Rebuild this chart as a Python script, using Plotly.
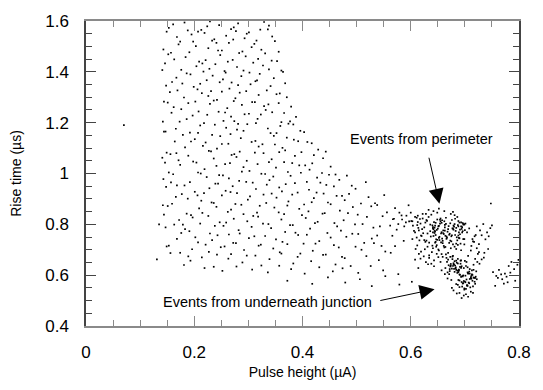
import plotly.graph_objects as go

# ---- broad band of events (pulse height, rise time), read row by row ----
band_x = [
 0.153,0.161,0.182,0.188,0.207,0.224,0.229,0.246,0.268,0.273,0.281,0.301,0.322,0.329,0.338,
 0.149,0.168,0.174,0.195,0.213,0.219,0.237,0.241,0.259,0.277,0.293,0.297,0.315,0.336,0.344,
 0.143,0.157,0.171,0.198,0.203,0.226,0.233,0.251,0.264,0.272,0.289,0.306,0.311,0.331,0.349,
 0.152,0.163,0.184,0.191,0.215,0.221,0.244,0.248,0.262,0.283,0.295,0.318,0.324,0.343,0.356,
 0.146,0.176,0.186,0.204,0.209,0.228,0.239,0.256,0.271,0.279,0.302,0.309,0.327,0.338,0.353,0.361,
 0.141,0.159,0.167,0.193,0.211,0.217,0.234,0.253,0.258,0.269,0.287,0.291,0.316,0.321,0.347,0.364,
 0.148,0.155,0.178,0.199,0.206,0.223,0.231,0.247,0.265,0.281,0.284,0.304,0.313,0.334,0.341,0.358,0.368,
 0.144,0.169,0.181,0.189,0.214,0.226,0.242,0.251,0.273,0.276,0.296,0.312,0.319,0.337,0.352,0.371,
 0.151,0.162,0.176,0.202,0.208,0.229,0.236,0.257,0.261,0.288,0.293,0.307,0.329,0.332,0.356,0.366,0.379,
 0.142,0.158,0.186,0.197,0.218,0.224,0.245,0.254,0.268,0.281,0.301,0.317,0.323,0.344,0.361,0.374,0.388,
 0.147,0.166,0.173,0.192,0.211,0.233,0.238,0.259,0.274,0.279,0.298,0.314,0.336,0.341,0.359,0.377,0.383,0.396,
 0.144,0.164,0.179,0.201,0.207,0.221,0.248,0.251,0.267,0.286,0.291,0.313,0.326,0.347,0.352,0.371,0.384,0.403,0.409,
 0.149,0.156,0.183,0.194,0.216,0.227,0.242,0.263,0.269,0.284,0.306,0.319,0.328,0.349,0.363,0.368,0.392,0.398,0.417,0.429,
 0.141,0.167,0.171,0.189,0.204,0.231,0.236,0.257,0.274,0.278,0.297,0.312,0.338,0.343,0.357,0.381,0.386,0.405,0.421,0.438,0.443,
 0.146,0.153,0.174,0.198,0.212,0.219,0.241,0.253,0.266,0.291,0.302,0.317,0.331,0.351,0.366,0.373,0.394,0.413,0.418,0.436,0.452,0.461,
 0.143,0.161,0.168,0.192,0.207,0.223,0.239,0.246,0.264,0.283,0.288,0.308,0.324,0.339,0.346,0.369,0.378,0.397,0.408,0.427,0.444,0.449,0.468,0.482,
 0.148,0.157,0.182,0.201,0.206,0.228,0.244,0.258,0.271,0.279,0.296,0.314,0.328,0.334,0.357,0.362,0.386,0.391,0.412,0.433,0.439,0.458,0.473,0.491,0.498,0.517,
 0.142,0.166,0.177,0.188,0.213,0.218,0.236,0.251,0.267,0.276,0.299,0.303,0.321,0.343,0.352,0.374,0.381,0.403,0.421,0.426,0.447,0.463,0.478,0.486,0.508,0.522,0.538,0.551,
 0.151,0.159,0.186,0.194,0.209,0.232,0.241,0.262,0.268,0.287,0.309,0.316,0.333,0.348,0.366,0.372,0.394,0.411,0.417,0.441,0.452,0.469,0.493,0.502,0.527,0.534,0.556,0.571,0.583,0.596,
 0.144,0.172,0.179,0.197,0.215,0.226,0.247,0.254,0.273,0.291,0.298,0.318,0.327,0.356,0.361,0.382,0.399,0.406,0.428,0.437,0.459,0.476,0.484,0.511,0.519,0.543,0.548,0.567,0.579,0.601,0.613,
 0.147,0.163,0.183,0.191,0.211,0.229,0.238,0.259,0.264,0.282,0.306,0.311,0.337,0.342,0.368,0.377,0.392,0.414,0.423,0.446,0.464,0.471,0.497,0.503,0.531,0.538,0.562,0.574,0.591,
 0.153,0.168,0.176,0.202,0.207,0.233,0.243,0.256,0.277,0.284,0.301,0.323,0.331,0.351,0.363,0.387,0.402,0.408,0.431,0.452,0.458,0.481,0.492,0.514,0.528,0.546,0.566,0.587,
 0.149,0.174,0.189,0.196,0.221,0.227,0.249,0.268,0.272,0.292,0.313,0.319,0.346,0.358,0.372,0.396,0.419,0.424,0.443,0.467,0.473,0.498,0.509,0.532,0.553,0.571,
 0.156,0.181,0.193,0.214,0.236,0.242,0.263,0.289,0.297,0.324,0.339,0.361,0.383,0.391,0.416,0.438,0.461,0.478,0.489,0.518,0.541,0.563,
 0.219,0.252,0.278,0.307,0.336,0.357,0.379,0.404,0.431,0.456,0.474,0.503,0.526,0.549,0.577,
 0.372,0.418,0.447,0.479,0.506,0.528,0.553,0.579,0.602,0.618,
 0.070,0.135,0.131,
]
band_y = [
 1.573,1.587,1.594,1.563,1.558,1.579,1.598,1.584,1.568,1.575,1.591,1.555,1.566,1.596,1.582,
 1.558,1.537,1.519,1.547,1.565,1.553,1.528,1.514,1.542,1.560,1.532,1.550,1.523,1.567,1.539,
 1.488,1.475,1.508,1.519,1.501,1.493,1.523,1.484,1.514,1.527,1.480,1.497,1.510,1.473,1.521,
 1.469,1.449,1.458,1.477,1.433,1.446,1.484,1.466,1.440,1.474,1.461,1.451,1.487,1.444,1.479,
 1.433,1.408,1.394,1.422,1.440,1.412,1.430,1.403,1.447,1.419,1.397,1.436,1.425,1.410,1.442,1.405,
 1.407,1.360,1.377,1.390,1.353,1.401,1.385,1.370,1.397,1.358,1.383,1.405,1.366,1.392,1.375,1.400,
 1.346,1.320,1.354,1.341,1.331,1.367,1.324,1.359,1.334,1.348,1.318,1.351,1.363,1.327,1.344,1.315,1.355,
 1.283,1.327,1.299,1.277,1.316,1.305,1.290,1.322,1.285,1.296,1.324,1.281,1.309,1.272,1.312,1.300,
 1.279,1.261,1.253,1.283,1.244,1.274,1.287,1.240,1.257,1.270,1.233,1.281,1.265,1.250,1.277,1.238,1.263,
 1.204,1.239,1.214,1.228,1.198,1.231,1.243,1.207,1.224,1.195,1.235,1.215,1.232,1.241,1.202,1.196,1.223,
 1.165,1.176,1.204,1.161,1.189,1.152,1.192,1.180,1.206,1.173,1.194,1.198,1.177,1.159,1.187,1.205,1.193,1.168,
 1.165,1.126,1.152,1.135,1.160,1.122,1.147,1.116,1.155,1.139,1.168,1.128,1.115,1.148,1.159,1.141,1.133,1.163,1.124,
 1.082,1.076,1.103,1.126,1.109,1.089,1.098,1.117,1.073,1.086,1.124,1.106,1.080,1.114,1.101,1.091,1.127,1.084,1.119,1.094,
 1.062,1.080,1.052,1.070,1.043,1.087,1.059,1.037,1.076,1.065,1.050,1.082,1.045,1.056,1.084,1.041,1.069,1.032,1.072,1.060,1.086,
 1.043,1.004,1.034,1.047,1.000,1.017,1.030,0.993,1.041,1.025,1.010,1.037,0.998,1.023,1.045,1.006,1.032,1.015,1.040,1.002,1.027,0.996,
 0.978,0.997,0.953,0.966,1.004,0.986,0.960,0.994,0.981,0.971,1.007,0.964,0.999,0.974,0.988,0.958,0.991,1.003,0.967,0.984,0.955,0.995,0.975,0.992,
 0.947,0.965,0.953,0.928,0.914,0.942,0.960,0.932,0.950,0.923,0.967,0.939,0.917,0.956,0.945,0.930,0.962,0.925,0.936,0.964,0.921,0.949,0.912,0.952,0.940,0.966,
 0.875,0.908,0.919,0.901,0.893,0.923,0.884,0.914,0.927,0.880,0.897,0.910,0.873,0.921,0.905,0.890,0.917,0.878,0.903,0.925,0.886,0.912,0.895,0.920,0.882,0.907,0.876,0.915,
 0.872,0.881,0.842,0.836,0.863,0.886,0.869,0.849,0.858,0.877,0.833,0.846,0.884,0.866,0.840,0.874,0.861,0.851,0.887,0.844,0.879,0.854,0.868,0.838,0.871,0.883,0.847,0.864,0.835,0.875,
 0.838,0.817,0.799,0.827,0.845,0.833,0.808,0.794,0.822,0.840,0.812,0.830,0.803,0.847,0.819,0.797,0.836,0.825,0.810,0.842,0.805,0.816,0.844,0.801,0.829,0.792,0.832,0.820,0.846,0.813,0.834,
 0.788,0.799,0.781,0.773,0.803,0.764,0.794,0.807,0.760,0.777,0.790,0.753,0.801,0.785,0.770,0.797,0.758,0.783,0.805,0.766,0.792,0.775,0.800,0.762,0.787,0.756,0.795,0.779,0.808,
 0.716,0.743,0.766,0.749,0.729,0.738,0.757,0.713,0.726,0.764,0.746,0.720,0.754,0.741,0.731,0.767,0.724,0.759,0.734,0.748,0.718,0.751,0.763,0.727,0.744,0.715,0.755,0.735,
 0.713,0.688,0.674,0.702,0.720,0.692,0.710,0.683,0.727,0.699,0.677,0.716,0.705,0.690,0.722,0.685,0.696,0.724,0.681,0.709,0.672,0.712,0.700,0.726,0.693,0.714,
 0.687,0.640,0.657,0.670,0.633,0.681,0.665,0.650,0.677,0.638,0.663,0.685,0.646,0.672,0.655,0.680,0.642,0.667,0.636,0.675,0.659,0.688,
 0.628,0.617,0.634,0.622,0.611,0.637,0.624,0.606,0.631,0.615,0.627,0.609,0.636,0.619,0.604,
 0.578,0.566,0.591,0.571,0.584,0.557,0.596,0.563,0.574,0.548,
 1.190,0.800,0.662,
]

# ---- events from perimeter (dense upper cluster) ----
perim_x = [
 0.662,0.679,0.648,0.673,0.691,0.655,0.667,0.684,0.643,0.696,
 0.659,0.676,0.651,0.688,0.657,0.681,0.641,0.699,0.665,0.672,
 0.653,0.687,0.661,0.669,0.646,0.693,0.656,0.683,0.649,0.674,
 0.663,0.690,0.644,0.697,0.666,0.678,0.654,0.686,0.660,0.670,
 0.647,0.694,0.664,0.682,0.652,0.675,0.658,0.689,0.642,0.698,
 0.661,0.671,0.650,0.685,0.657,0.680,0.653,0.692,0.663,0.676,
 0.645,0.688,0.666,0.679,0.648,0.695,0.660,0.684,0.655,0.673,
 0.640,0.700,0.664,0.682,0.651,0.677,0.658,0.690,0.646,0.668,
 0.671,0.686,0.656,0.693,0.662,0.644,0.687,0.665,0.652,0.678,
 0.641,0.696,0.659,0.675,0.649,0.699,0.663,0.681,0.654,0.689,
]
perim_y = [
 0.812,0.795,0.778,0.804,0.761,0.823,0.748,0.786,0.809,0.773,
 0.735,0.817,0.792,0.756,0.769,0.801,0.784,0.742,0.826,0.763,
 0.751,0.797,0.715,0.781,0.758,0.808,0.729,0.774,0.819,0.706,
 0.788,0.745,0.766,0.799,0.752,0.721,0.803,0.737,0.776,0.793,
 0.741,0.782,0.711,0.758,0.794,0.733,0.816,0.768,0.754,0.801,
 0.762,0.727,0.783,0.749,0.806,0.791,0.738,0.724,0.798,0.757,
 0.772,0.813,0.743,0.779,0.718,0.789,0.765,0.703,0.812,0.736,
 0.796,0.777,0.755,0.822,0.701,0.784,0.744,0.807,0.731,0.771,
 0.759,0.829,0.764,0.792,0.709,0.787,0.719,0.802,0.747,0.783,
 0.768,0.805,0.726,0.753,0.739,0.799,0.775,0.712,0.818,0.747,
]

# ---- events from underneath junction (dense lower cluster) ----
junc_x = [
 0.688,0.701,0.673,0.709,0.684,0.696,0.667,0.713,0.690,0.679,
 0.705,0.676,0.693,0.669,0.718,0.686,0.699,0.674,0.711,0.689,
 0.681,0.707,0.664,0.695,0.687,0.721,0.677,0.703,0.692,0.671,
 0.715,0.683,0.698,0.666,0.691,0.710,0.680,0.716,0.688,0.697,
 0.672,0.706,0.685,0.722,0.694,0.678,0.712,0.687,0.668,0.702,
 0.693,0.675,0.708,0.684,0.717,0.690,0.673,0.704,0.682,0.714,
 0.696,0.665,0.689,0.719,0.679,0.706,0.695,0.670,0.711,0.686,
 0.700,0.677,0.714,0.691,0.668,0.699,0.683,0.720,0.692,0.681,
 0.708,0.674,0.697,0.688,0.716,0.678,0.704,0.694,0.663,0.712,
 0.687,0.701,0.672,0.709,0.690,0.680,0.719,0.693,0.684,0.705,
 0.690,0.698,0.706,0.685,0.711,0.679,0.702,0.694,0.715,0.676,
]
junc_y = [
 0.612,0.598,0.634,0.585,0.621,0.567,0.652,0.603,0.579,0.641,
 0.558,0.626,0.593,0.661,0.574,0.609,0.548,0.637,0.588,0.619,
 0.655,0.571,0.628,0.596,0.562,0.615,0.673,0.583,0.645,0.604,
 0.556,0.631,0.577,0.668,0.601,0.552,0.642,0.591,0.617,0.569,
 0.624,0.606,0.649,0.584,0.573,0.636,0.597,0.664,0.611,0.546,
 0.629,0.581,0.614,0.657,0.589,0.603,0.672,0.561,0.638,0.578,
 0.595,0.682,0.622,0.566,0.647,0.608,0.555,0.639,0.592,0.618,
 0.575,0.663,0.601,0.633,0.587,0.543,0.627,0.594,0.657,0.613,
 0.568,0.644,0.599,0.581,0.621,0.676,0.559,0.635,0.604,0.586,
 0.646,0.572,0.616,0.606,0.553,0.625,0.589,0.658,0.565,0.631,
 0.530,0.520,0.515,0.528,0.535,0.540,0.525,0.510,0.530,0.550,
]

# ---- halo around the clusters ----
halo_x = [
 0.603,0.614,0.622,0.631,0.638,0.645,0.611,0.627,0.636,0.642,
 0.697,0.704,0.712,0.718,0.726,0.708,0.715,0.722,0.731,0.701,
 0.619,0.628,0.634,0.641,0.649,0.606,0.617,0.625,0.633,0.640,
 0.693,0.699,0.706,0.714,0.720,0.703,0.711,0.717,0.724,0.735,
 0.612,0.623,0.630,0.637,0.644,0.652,0.608,0.621,0.629,0.646,
 0.674,0.681,0.688,0.695,0.662,0.669,0.678,0.684,0.691,0.657,
 0.639,0.626,0.615,0.634,0.647,0.609,0.643,0.618,0.651,0.632,
 0.709,0.702,0.716,0.723,0.698,0.713,0.705,0.719,0.727,0.700,
 0.597,0.604,0.611,0.618,0.625,0.629,0.636,0.592,0.615,0.622,
 0.584,0.577,0.608,0.633,0.588,0.620,0.642,0.600,0.569,0.613,
 0.603,0.612,0.619,0.627,0.634,0.641,0.648,0.655,0.608,0.616,
 0.624,0.631,0.638,0.645,0.652,0.659,0.614,0.628,0.643,0.657,
]
halo_y = [
 0.812,0.786,0.823,0.764,0.838,0.795,0.748,0.807,0.773,0.852,
 0.742,0.768,0.715,0.753,0.691,0.784,0.733,0.706,0.662,0.803,
 0.756,0.841,0.728,0.789,0.846,0.774,0.821,0.738,0.857,0.716,
 0.698,0.721,0.676,0.742,0.758,0.652,0.697,0.731,0.684,0.669,
 0.797,0.765,0.814,0.752,0.774,0.862,0.829,0.781,0.736,0.806,
 0.841,0.836,0.792,0.768,0.852,0.688,0.849,0.724,0.779,0.683,
 0.691,0.702,0.684,0.678,0.712,0.703,0.658,0.665,0.671,0.643,
 0.624,0.636,0.641,0.652,0.628,0.619,0.611,0.664,0.645,0.656,
 0.812,0.795,0.826,0.803,0.788,0.817,0.799,0.834,0.776,0.841,
 0.819,0.801,0.768,0.829,0.792,0.754,0.781,0.846,0.822,0.809,
 0.742,0.717,0.693,0.731,0.668,0.706,0.684,0.652,0.661,0.737,
 0.674,0.712,0.645,0.728,0.697,0.672,0.628,0.651,0.635,0.619,
]

# ---- sparse tail at large pulse height ----
tail_x = [0.722,0.728,0.734,0.741,0.747,0.731,0.738,0.726,0.744,0.750,
          0.752,0.758,0.763,0.769,0.774,0.779,0.756,0.761,0.767,0.772,
          0.777,0.784,0.791,0.797,0.786,0.793,0.743,0.736,0.799,0.781,0.748]
tail_y = [0.792,0.776,0.801,0.768,0.785,0.757,0.741,0.722,0.753,0.796,
          0.612,0.597,0.621,0.584,0.606,0.572,0.558,0.589,0.603,0.567,
          0.594,0.610,0.624,0.641,0.652,0.578,0.703,0.688,0.660,0.636,0.882]

x_ticks = [0, 0.2, 0.4, 0.6, 0.8]
x_labels = ["0", "0.2", "0.4", "0.6", "0.8"]
y_ticks = [0.4, 0.6, 0.8, 1.0, 1.2, 1.4, 1.6]
y_labels = ["0.4", "0.6", "0.8", "1", "1.2", "1.4", "1.6"]

all_x = band_x + perim_x + junc_x + halo_x + tail_x
all_y = band_y + perim_y + junc_y + halo_y + tail_y

FONT = "Liberation Sans, Arial, sans-serif"

fig = go.Figure()
fig.add_trace(go.Scatter(
    x=all_x, y=all_y, mode="markers",
    marker=dict(symbol="square", size=1.7, color="black", line=dict(width=0)),
    showlegend=False, hoverinfo="skip",
))

fig.update_layout(
    width=543, height=390,
    margin=dict(l=86, r=17, t=14, b=62),
    paper_bgcolor="white", plot_bgcolor="white",
    font=dict(family=FONT, color="black"),
    showlegend=False,
)

fig.update_xaxes(
    range=[0, 0.8], tickvals=x_ticks, ticktext=x_labels,
    showgrid=False, zeroline=False,
    showline=True, linecolor="#8a8a8a", linewidth=1.5, mirror="ticks",
    ticks="inside", ticklen=10, tickcolor="#8a8a8a", tickwidth=1.2,
    minor=dict(dtick=0.05, tick0=0, ticks="inside", ticklen=6, tickcolor="#8a8a8a", tickwidth=1, showgrid=False),
    tickfont=dict(size=17, family=FONT), ticklabelstandoff=10,
    title=dict(text="Pulse height (µA)", font=dict(size=14, family=FONT), standoff=6),
)
fig.update_yaxes(
    range=[0.4, 1.6], tickvals=y_ticks, ticktext=y_labels,
    showgrid=False, zeroline=False,
    showline=True, linecolor="#444444", linewidth=1.5, mirror="ticks",
    ticks="inside", ticklen=10, tickcolor="#444444", tickwidth=1.2,
    minor=dict(dtick=0.05, tick0=0.4, ticks="inside", ticklen=6, tickcolor="#444444", tickwidth=1, showgrid=False),
    tickfont=dict(size=17, family=FONT), ticklabelstandoff=12,
    title=dict(text="Rise time (µs)", font=dict(size=14, family=FONT), standoff=20),
)

ann_font = dict(size=14.5, family=FONT, color="black")
fig.add_annotation(x=0.619, y=1.137, xref="x", yref="y", text="Events from perimeter",
                   showarrow=False, font=ann_font)
fig.add_annotation(x=0.653, y=0.881, ax=0.633, ay=1.068, xref="x", yref="y",
                   axref="x", ayref="y", text="", showarrow=True,
                   arrowhead=2, arrowsize=3, arrowwidth=1, arrowcolor="black")
fig.add_annotation(x=0.335, y=0.495, xref="x", yref="y", text="Events from underneath junction",
                   showarrow=False, font=ann_font)
fig.add_annotation(x=0.644, y=0.545, ax=0.541, ay=0.499, xref="x", yref="y",
                   axref="x", ayref="y", text="", showarrow=True,
                   arrowhead=2, arrowsize=3, arrowwidth=1, arrowcolor="black")

fig.write_html("out.html")
